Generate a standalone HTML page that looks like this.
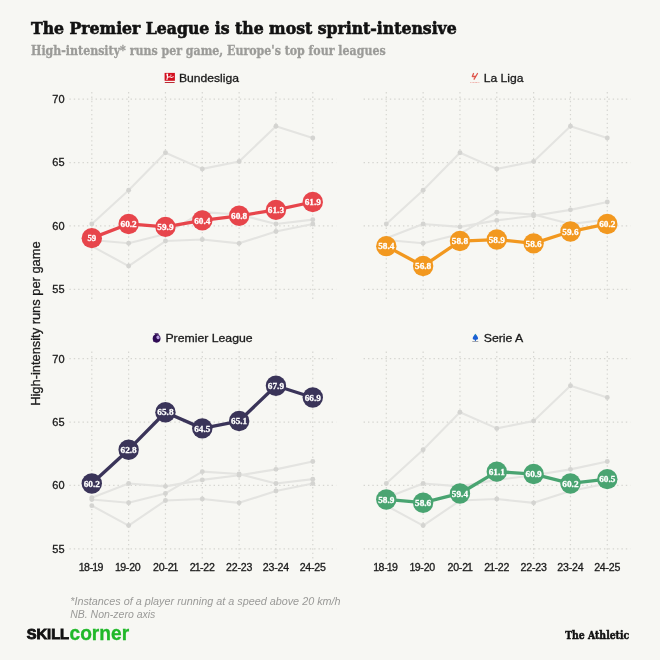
<!DOCTYPE html>
<html lang="en"><head><meta charset="utf-8"><title>The Premier League is the most sprint-intensive</title>
<style>
html,body{margin:0;padding:0;background:#f7f7f3;}
body{width:660px;height:660px;overflow:hidden;}
svg{display:block}
.t{font-family:"DejaVu Serif Condensed","DejaVu Serif","Liberation Serif",serif;font-stretch:condensed;font-weight:bold;}
.v{font-family:"Liberation Serif","DejaVu Serif",serif;font-weight:bold;font-size:9.2px;fill:#fff;stroke:#fff;stroke-width:0.28;}
.s{font-family:"Liberation Sans",sans-serif;}
.m{stroke:#1a1a1a;stroke-width:0.3;fill:#1a1a1a;}
.g line{stroke:#d6d6d1;stroke-width:1.2;stroke-dasharray:1.4 2.97;}
</style></head><body>
<svg width="660" height="660" viewBox="0 0 660 660">
<rect width="660" height="660" fill="#f7f7f3"/>
<text class="t" x="31" y="34.3" font-size="17.4" fill="#121212" stroke="#121212" stroke-width="0.6" textLength="425.7" lengthAdjust="spacingAndGlyphs">The Premier League is the most sprint-intensive</text>
<text class="t" x="31" y="55.3" font-size="12.25" fill="#9b9b98" stroke="#9b9b98" stroke-width="0.3" textLength="354.6" lengthAdjust="spacingAndGlyphs">High-intensity* runs per game, Europe's top four leagues</text>

<g>
<g class="g">
<line x1="69.4" x2="336.20000000000005" y1="99.10" y2="99.10"/>
<line x1="69.4" x2="336.20000000000005" y1="162.53" y2="162.53"/>
<line x1="69.4" x2="336.20000000000005" y1="225.97" y2="225.97"/>
<line x1="69.4" x2="336.20000000000005" y1="289.40" y2="289.40"/>
<line x1="91.80" x2="91.80" y1="298.90" y2="89.60"/>
<line x1="128.63" x2="128.63" y1="298.90" y2="89.60"/>
<line x1="165.46" x2="165.46" y1="298.90" y2="89.60"/>
<line x1="202.29" x2="202.29" y1="298.90" y2="89.60"/>
<line x1="239.12" x2="239.12" y1="298.90" y2="89.60"/>
<line x1="275.95" x2="275.95" y1="298.90" y2="89.60"/>
<line x1="312.78" x2="312.78" y1="298.90" y2="89.60"/>
</g>
<polyline points="91.80,246.14 128.63,266.06 165.46,241.07 202.29,239.55 239.12,243.35 275.95,231.55 312.78,223.94" fill="none" stroke="#e4e4e1" stroke-width="2.1" stroke-linejoin="round"/>
<circle cx="91.80" cy="246.14" r="2.45" fill="#d4d4d1"/>
<circle cx="128.63" cy="266.06" r="2.45" fill="#d4d4d1"/>
<circle cx="165.46" cy="241.07" r="2.45" fill="#d4d4d1"/>
<circle cx="202.29" cy="239.55" r="2.45" fill="#d4d4d1"/>
<circle cx="239.12" cy="243.35" r="2.45" fill="#d4d4d1"/>
<circle cx="275.95" cy="231.55" r="2.45" fill="#d4d4d1"/>
<circle cx="312.78" cy="223.94" r="2.45" fill="#d4d4d1"/>
<polyline points="91.80,223.94 128.63,190.19 165.46,152.77 202.29,168.88 239.12,161.52 275.95,126.25 312.78,138.05" fill="none" stroke="#e4e4e1" stroke-width="2.1" stroke-linejoin="round"/>
<circle cx="91.80" cy="223.94" r="2.45" fill="#d4d4d1"/>
<circle cx="128.63" cy="190.19" r="2.45" fill="#d4d4d1"/>
<circle cx="165.46" cy="152.77" r="2.45" fill="#d4d4d1"/>
<circle cx="202.29" cy="168.88" r="2.45" fill="#d4d4d1"/>
<circle cx="239.12" cy="161.52" r="2.45" fill="#d4d4d1"/>
<circle cx="275.95" cy="126.25" r="2.45" fill="#d4d4d1"/>
<circle cx="312.78" cy="138.05" r="2.45" fill="#d4d4d1"/>
<polyline points="91.80,239.93 128.63,243.22 165.46,233.96 202.29,212.14 239.12,214.55 275.95,223.94 312.78,219.63" fill="none" stroke="#e4e4e1" stroke-width="2.1" stroke-linejoin="round"/>
<circle cx="91.80" cy="239.93" r="2.45" fill="#d4d4d1"/>
<circle cx="128.63" cy="243.22" r="2.45" fill="#d4d4d1"/>
<circle cx="165.46" cy="233.96" r="2.45" fill="#d4d4d1"/>
<circle cx="202.29" cy="212.14" r="2.45" fill="#d4d4d1"/>
<circle cx="239.12" cy="214.55" r="2.45" fill="#d4d4d1"/>
<circle cx="275.95" cy="223.94" r="2.45" fill="#d4d4d1"/>
<circle cx="312.78" cy="219.63" r="2.45" fill="#d4d4d1"/>
<polyline points="91.80,238.15 128.63,223.94 165.46,226.86 202.29,220.39 239.12,215.82 275.95,209.86 312.78,201.99" fill="none" stroke="#e7454b" stroke-width="3.3" stroke-linejoin="round"/>
<circle cx="91.80" cy="238.15" r="10.2" fill="#e7454b"/>
<text class="v" x="87.40" y="241.35" textLength="8.8" lengthAdjust="spacingAndGlyphs">59</text>
<circle cx="128.63" cy="223.94" r="10.2" fill="#e7454b"/>
<text class="v" x="120.53" y="227.14" textLength="16.2" lengthAdjust="spacingAndGlyphs">60.2</text>
<circle cx="165.46" cy="226.86" r="10.2" fill="#e7454b"/>
<text class="v" x="157.36" y="230.06" textLength="16.2" lengthAdjust="spacingAndGlyphs">59.9</text>
<circle cx="202.29" cy="220.39" r="10.2" fill="#e7454b"/>
<text class="v" x="194.19" y="223.59" textLength="16.2" lengthAdjust="spacingAndGlyphs">60.4</text>
<circle cx="239.12" cy="215.82" r="10.2" fill="#e7454b"/>
<text class="v" x="231.02" y="219.02" textLength="16.2" lengthAdjust="spacingAndGlyphs">60.8</text>
<circle cx="275.95" cy="209.86" r="10.2" fill="#e7454b"/>
<text class="v" x="267.85" y="213.06" textLength="16.2" lengthAdjust="spacingAndGlyphs">61.3</text>
<circle cx="312.78" cy="201.99" r="10.2" fill="#e7454b"/>
<text class="v" x="304.68" y="205.19" textLength="16.2" lengthAdjust="spacingAndGlyphs">61.9</text>
<text class="s m" x="64.6" y="103.00" font-size="11" text-anchor="end">70</text>
<text class="s m" x="64.6" y="166.44" font-size="11" text-anchor="end">65</text>
<text class="s m" x="64.6" y="229.87" font-size="11" text-anchor="end">60</text>
<text class="s m" x="64.6" y="293.30" font-size="11" text-anchor="end">55</text>
</g>
<g>
<g class="g">
<line x1="363.6" x2="630.4000000000001" y1="99.10" y2="99.10"/>
<line x1="363.6" x2="630.4000000000001" y1="162.53" y2="162.53"/>
<line x1="363.6" x2="630.4000000000001" y1="225.97" y2="225.97"/>
<line x1="363.6" x2="630.4000000000001" y1="289.40" y2="289.40"/>
<line x1="386.30" x2="386.30" y1="298.90" y2="89.60"/>
<line x1="423.13" x2="423.13" y1="298.90" y2="89.60"/>
<line x1="459.96" x2="459.96" y1="298.90" y2="89.60"/>
<line x1="496.79" x2="496.79" y1="298.90" y2="89.60"/>
<line x1="533.62" x2="533.62" y1="298.90" y2="89.60"/>
<line x1="570.45" x2="570.45" y1="298.90" y2="89.60"/>
<line x1="607.28" x2="607.28" y1="298.90" y2="89.60"/>
</g>
<polyline points="386.30,238.15 423.13,223.94 459.96,226.86 496.79,220.39 533.62,215.82 570.45,209.86 607.28,201.99" fill="none" stroke="#e4e4e1" stroke-width="2.1" stroke-linejoin="round"/>
<circle cx="386.30" cy="238.15" r="2.45" fill="#d4d4d1"/>
<circle cx="423.13" cy="223.94" r="2.45" fill="#d4d4d1"/>
<circle cx="459.96" cy="226.86" r="2.45" fill="#d4d4d1"/>
<circle cx="496.79" cy="220.39" r="2.45" fill="#d4d4d1"/>
<circle cx="533.62" cy="215.82" r="2.45" fill="#d4d4d1"/>
<circle cx="570.45" cy="209.86" r="2.45" fill="#d4d4d1"/>
<circle cx="607.28" cy="201.99" r="2.45" fill="#d4d4d1"/>
<polyline points="386.30,223.94 423.13,190.19 459.96,152.77 496.79,168.88 533.62,161.52 570.45,126.25 607.28,138.05" fill="none" stroke="#e4e4e1" stroke-width="2.1" stroke-linejoin="round"/>
<circle cx="386.30" cy="223.94" r="2.45" fill="#d4d4d1"/>
<circle cx="423.13" cy="190.19" r="2.45" fill="#d4d4d1"/>
<circle cx="459.96" cy="152.77" r="2.45" fill="#d4d4d1"/>
<circle cx="496.79" cy="168.88" r="2.45" fill="#d4d4d1"/>
<circle cx="533.62" cy="161.52" r="2.45" fill="#d4d4d1"/>
<circle cx="570.45" cy="126.25" r="2.45" fill="#d4d4d1"/>
<circle cx="607.28" cy="138.05" r="2.45" fill="#d4d4d1"/>
<polyline points="386.30,239.93 423.13,243.22 459.96,233.96 496.79,212.14 533.62,214.55 570.45,223.94 607.28,219.63" fill="none" stroke="#e4e4e1" stroke-width="2.1" stroke-linejoin="round"/>
<circle cx="386.30" cy="239.93" r="2.45" fill="#d4d4d1"/>
<circle cx="423.13" cy="243.22" r="2.45" fill="#d4d4d1"/>
<circle cx="459.96" cy="233.96" r="2.45" fill="#d4d4d1"/>
<circle cx="496.79" cy="212.14" r="2.45" fill="#d4d4d1"/>
<circle cx="533.62" cy="214.55" r="2.45" fill="#d4d4d1"/>
<circle cx="570.45" cy="223.94" r="2.45" fill="#d4d4d1"/>
<circle cx="607.28" cy="219.63" r="2.45" fill="#d4d4d1"/>
<polyline points="386.30,246.14 423.13,266.06 459.96,241.07 496.79,239.55 533.62,243.35 570.45,231.55 607.28,223.94" fill="none" stroke="#f2981f" stroke-width="3.3" stroke-linejoin="round"/>
<circle cx="386.30" cy="246.14" r="10.2" fill="#f2981f"/>
<text class="v" x="378.20" y="249.34" textLength="16.2" lengthAdjust="spacingAndGlyphs">58.4</text>
<circle cx="423.13" cy="266.06" r="10.2" fill="#f2981f"/>
<text class="v" x="415.03" y="269.26" textLength="16.2" lengthAdjust="spacingAndGlyphs">56.8</text>
<circle cx="459.96" cy="241.07" r="10.2" fill="#f2981f"/>
<text class="v" x="451.86" y="244.27" textLength="16.2" lengthAdjust="spacingAndGlyphs">58.8</text>
<circle cx="496.79" cy="239.55" r="10.2" fill="#f2981f"/>
<text class="v" x="488.69" y="242.75" textLength="16.2" lengthAdjust="spacingAndGlyphs">58.9</text>
<circle cx="533.62" cy="243.35" r="10.2" fill="#f2981f"/>
<text class="v" x="525.52" y="246.55" textLength="16.2" lengthAdjust="spacingAndGlyphs">58.6</text>
<circle cx="570.45" cy="231.55" r="10.2" fill="#f2981f"/>
<text class="v" x="562.35" y="234.75" textLength="16.2" lengthAdjust="spacingAndGlyphs">59.6</text>
<circle cx="607.28" cy="223.94" r="10.2" fill="#f2981f"/>
<text class="v" x="599.18" y="227.14" textLength="16.2" lengthAdjust="spacingAndGlyphs">60.2</text>
</g>
<g>
<g class="g">
<line x1="69.4" x2="336.20000000000005" y1="358.60" y2="358.60"/>
<line x1="69.4" x2="336.20000000000005" y1="422.04" y2="422.04"/>
<line x1="69.4" x2="336.20000000000005" y1="485.47" y2="485.47"/>
<line x1="69.4" x2="336.20000000000005" y1="548.90" y2="548.90"/>
<line x1="91.80" x2="91.80" y1="558.40" y2="349.10"/>
<line x1="128.63" x2="128.63" y1="558.40" y2="349.10"/>
<line x1="165.46" x2="165.46" y1="558.40" y2="349.10"/>
<line x1="202.29" x2="202.29" y1="558.40" y2="349.10"/>
<line x1="239.12" x2="239.12" y1="558.40" y2="349.10"/>
<line x1="275.95" x2="275.95" y1="558.40" y2="349.10"/>
<line x1="312.78" x2="312.78" y1="558.40" y2="349.10"/>
</g>
<polyline points="91.80,497.65 128.63,483.44 165.46,486.36 202.29,479.89 239.12,475.32 275.95,469.36 312.78,461.49" fill="none" stroke="#e4e4e1" stroke-width="2.1" stroke-linejoin="round"/>
<circle cx="91.80" cy="497.65" r="2.45" fill="#d4d4d1"/>
<circle cx="128.63" cy="483.44" r="2.45" fill="#d4d4d1"/>
<circle cx="165.46" cy="486.36" r="2.45" fill="#d4d4d1"/>
<circle cx="202.29" cy="479.89" r="2.45" fill="#d4d4d1"/>
<circle cx="239.12" cy="475.32" r="2.45" fill="#d4d4d1"/>
<circle cx="275.95" cy="469.36" r="2.45" fill="#d4d4d1"/>
<circle cx="312.78" cy="461.49" r="2.45" fill="#d4d4d1"/>
<polyline points="91.80,505.64 128.63,525.56 165.46,500.57 202.29,499.05 239.12,502.85 275.95,491.05 312.78,483.44" fill="none" stroke="#e4e4e1" stroke-width="2.1" stroke-linejoin="round"/>
<circle cx="91.80" cy="505.64" r="2.45" fill="#d4d4d1"/>
<circle cx="128.63" cy="525.56" r="2.45" fill="#d4d4d1"/>
<circle cx="165.46" cy="500.57" r="2.45" fill="#d4d4d1"/>
<circle cx="202.29" cy="499.05" r="2.45" fill="#d4d4d1"/>
<circle cx="239.12" cy="502.85" r="2.45" fill="#d4d4d1"/>
<circle cx="275.95" cy="491.05" r="2.45" fill="#d4d4d1"/>
<circle cx="312.78" cy="483.44" r="2.45" fill="#d4d4d1"/>
<polyline points="91.80,499.43 128.63,502.72 165.46,493.46 202.29,471.64 239.12,474.05 275.95,483.44 312.78,479.13" fill="none" stroke="#e4e4e1" stroke-width="2.1" stroke-linejoin="round"/>
<circle cx="91.80" cy="499.43" r="2.45" fill="#d4d4d1"/>
<circle cx="128.63" cy="502.72" r="2.45" fill="#d4d4d1"/>
<circle cx="165.46" cy="493.46" r="2.45" fill="#d4d4d1"/>
<circle cx="202.29" cy="471.64" r="2.45" fill="#d4d4d1"/>
<circle cx="239.12" cy="474.05" r="2.45" fill="#d4d4d1"/>
<circle cx="275.95" cy="483.44" r="2.45" fill="#d4d4d1"/>
<circle cx="312.78" cy="479.13" r="2.45" fill="#d4d4d1"/>
<polyline points="91.80,483.44 128.63,449.69 165.46,412.27 202.29,428.38 239.12,421.02 275.95,385.75 312.78,397.55" fill="none" stroke="#3a3459" stroke-width="3.3" stroke-linejoin="round"/>
<circle cx="91.80" cy="483.44" r="10.2" fill="#3a3459"/>
<text class="v" x="83.70" y="486.64" textLength="16.2" lengthAdjust="spacingAndGlyphs">60.2</text>
<circle cx="128.63" cy="449.69" r="10.2" fill="#3a3459"/>
<text class="v" x="120.53" y="452.89" textLength="16.2" lengthAdjust="spacingAndGlyphs">62.8</text>
<circle cx="165.46" cy="412.27" r="10.2" fill="#3a3459"/>
<text class="v" x="157.36" y="415.47" textLength="16.2" lengthAdjust="spacingAndGlyphs">65.8</text>
<circle cx="202.29" cy="428.38" r="10.2" fill="#3a3459"/>
<text class="v" x="194.19" y="431.58" textLength="16.2" lengthAdjust="spacingAndGlyphs">64.5</text>
<circle cx="239.12" cy="421.02" r="10.2" fill="#3a3459"/>
<text class="v" x="231.02" y="424.22" textLength="16.2" lengthAdjust="spacingAndGlyphs">65.1</text>
<circle cx="275.95" cy="385.75" r="10.2" fill="#3a3459"/>
<text class="v" x="267.85" y="388.95" textLength="16.2" lengthAdjust="spacingAndGlyphs">67.9</text>
<circle cx="312.78" cy="397.55" r="10.2" fill="#3a3459"/>
<text class="v" x="304.68" y="400.75" textLength="16.2" lengthAdjust="spacingAndGlyphs">66.9</text>
<text class="s m" x="64.6" y="362.50" font-size="11" text-anchor="end">70</text>
<text class="s m" x="64.6" y="425.94" font-size="11" text-anchor="end">65</text>
<text class="s m" x="64.6" y="489.37" font-size="11" text-anchor="end">60</text>
<text class="s m" x="64.6" y="552.80" font-size="11" text-anchor="end">55</text>
<text class="s m" x="79.61" y="571" font-size="10.6" dx="-0.75 -0.77 -0.22 -0.97 -0.77">18-19</text>
<text class="s m" x="115.79" y="571" font-size="10.6" dx="-0.75 -0.77 -0.22 -0.22 -0.22">19-20</text>
<text class="s m" x="153.00" y="571" font-size="10.6" dx="0.00 -0.22 -0.22 -0.22 -0.97">20-21</text>
<text class="s m" x="189.83" y="571" font-size="10.6" dx="0.00 -0.97 -0.77 -0.22 -0.22">21-22</text>
<text class="s m" x="226.01" y="571" font-size="10.6" dx="0.00 -0.22 -0.22 -0.22 -0.22">22-23</text>
<text class="s m" x="262.84" y="571" font-size="10.6" dx="0.00 -0.22 -0.22 -0.22 -0.22">23-24</text>
<text class="s m" x="299.67" y="571" font-size="10.6" dx="0.00 -0.22 -0.22 -0.22 -0.22">24-25</text>
</g>
<g>
<g class="g">
<line x1="363.6" x2="630.4000000000001" y1="358.60" y2="358.60"/>
<line x1="363.6" x2="630.4000000000001" y1="422.04" y2="422.04"/>
<line x1="363.6" x2="630.4000000000001" y1="485.47" y2="485.47"/>
<line x1="363.6" x2="630.4000000000001" y1="548.90" y2="548.90"/>
<line x1="386.30" x2="386.30" y1="558.40" y2="349.10"/>
<line x1="423.13" x2="423.13" y1="558.40" y2="349.10"/>
<line x1="459.96" x2="459.96" y1="558.40" y2="349.10"/>
<line x1="496.79" x2="496.79" y1="558.40" y2="349.10"/>
<line x1="533.62" x2="533.62" y1="558.40" y2="349.10"/>
<line x1="570.45" x2="570.45" y1="558.40" y2="349.10"/>
<line x1="607.28" x2="607.28" y1="558.40" y2="349.10"/>
</g>
<polyline points="386.30,497.65 423.13,483.44 459.96,486.36 496.79,479.89 533.62,475.32 570.45,469.36 607.28,461.49" fill="none" stroke="#e4e4e1" stroke-width="2.1" stroke-linejoin="round"/>
<circle cx="386.30" cy="497.65" r="2.45" fill="#d4d4d1"/>
<circle cx="423.13" cy="483.44" r="2.45" fill="#d4d4d1"/>
<circle cx="459.96" cy="486.36" r="2.45" fill="#d4d4d1"/>
<circle cx="496.79" cy="479.89" r="2.45" fill="#d4d4d1"/>
<circle cx="533.62" cy="475.32" r="2.45" fill="#d4d4d1"/>
<circle cx="570.45" cy="469.36" r="2.45" fill="#d4d4d1"/>
<circle cx="607.28" cy="461.49" r="2.45" fill="#d4d4d1"/>
<polyline points="386.30,505.64 423.13,525.56 459.96,500.57 496.79,499.05 533.62,502.85 570.45,491.05 607.28,483.44" fill="none" stroke="#e4e4e1" stroke-width="2.1" stroke-linejoin="round"/>
<circle cx="386.30" cy="505.64" r="2.45" fill="#d4d4d1"/>
<circle cx="423.13" cy="525.56" r="2.45" fill="#d4d4d1"/>
<circle cx="459.96" cy="500.57" r="2.45" fill="#d4d4d1"/>
<circle cx="496.79" cy="499.05" r="2.45" fill="#d4d4d1"/>
<circle cx="533.62" cy="502.85" r="2.45" fill="#d4d4d1"/>
<circle cx="570.45" cy="491.05" r="2.45" fill="#d4d4d1"/>
<circle cx="607.28" cy="483.44" r="2.45" fill="#d4d4d1"/>
<polyline points="386.30,483.44 423.13,449.69 459.96,412.27 496.79,428.38 533.62,421.02 570.45,385.75 607.28,397.55" fill="none" stroke="#e4e4e1" stroke-width="2.1" stroke-linejoin="round"/>
<circle cx="386.30" cy="483.44" r="2.45" fill="#d4d4d1"/>
<circle cx="423.13" cy="449.69" r="2.45" fill="#d4d4d1"/>
<circle cx="459.96" cy="412.27" r="2.45" fill="#d4d4d1"/>
<circle cx="496.79" cy="428.38" r="2.45" fill="#d4d4d1"/>
<circle cx="533.62" cy="421.02" r="2.45" fill="#d4d4d1"/>
<circle cx="570.45" cy="385.75" r="2.45" fill="#d4d4d1"/>
<circle cx="607.28" cy="397.55" r="2.45" fill="#d4d4d1"/>
<polyline points="386.30,499.43 423.13,502.72 459.96,493.46 496.79,471.64 533.62,474.05 570.45,483.44 607.28,479.13" fill="none" stroke="#49a471" stroke-width="3.3" stroke-linejoin="round"/>
<circle cx="386.30" cy="499.43" r="10.2" fill="#49a471"/>
<text class="v" x="378.20" y="502.63" textLength="16.2" lengthAdjust="spacingAndGlyphs">58.9</text>
<circle cx="423.13" cy="502.72" r="10.2" fill="#49a471"/>
<text class="v" x="415.03" y="505.92" textLength="16.2" lengthAdjust="spacingAndGlyphs">58.6</text>
<circle cx="459.96" cy="493.46" r="10.2" fill="#49a471"/>
<text class="v" x="451.86" y="496.66" textLength="16.2" lengthAdjust="spacingAndGlyphs">59.4</text>
<circle cx="496.79" cy="471.64" r="10.2" fill="#49a471"/>
<text class="v" x="488.69" y="474.84" textLength="16.2" lengthAdjust="spacingAndGlyphs">61.1</text>
<circle cx="533.62" cy="474.05" r="10.2" fill="#49a471"/>
<text class="v" x="525.52" y="477.25" textLength="16.2" lengthAdjust="spacingAndGlyphs">60.9</text>
<circle cx="570.45" cy="483.44" r="10.2" fill="#49a471"/>
<text class="v" x="562.35" y="486.64" textLength="16.2" lengthAdjust="spacingAndGlyphs">60.2</text>
<circle cx="607.28" cy="479.13" r="10.2" fill="#49a471"/>
<text class="v" x="599.18" y="482.33" textLength="16.2" lengthAdjust="spacingAndGlyphs">60.5</text>
<text class="s m" x="374.11" y="571" font-size="10.6" dx="-0.75 -0.77 -0.22 -0.97 -0.77">18-19</text>
<text class="s m" x="410.29" y="571" font-size="10.6" dx="-0.75 -0.77 -0.22 -0.22 -0.22">19-20</text>
<text class="s m" x="447.50" y="571" font-size="10.6" dx="0.00 -0.22 -0.22 -0.22 -0.97">20-21</text>
<text class="s m" x="484.33" y="571" font-size="10.6" dx="0.00 -0.97 -0.77 -0.22 -0.22">21-22</text>
<text class="s m" x="520.51" y="571" font-size="10.6" dx="0.00 -0.22 -0.22 -0.22 -0.22">22-23</text>
<text class="s m" x="557.34" y="571" font-size="10.6" dx="0.00 -0.22 -0.22 -0.22 -0.22">23-24</text>
<text class="s m" x="594.17" y="571" font-size="10.6" dx="0.00 -0.22 -0.22 -0.22 -0.22">24-25</text>
</g>

<!-- Bundesliga logo -->
<g>
<rect x="164.6" y="72.9" width="10.3" height="7.9" fill="#d3101f"/>
<rect x="164.8" y="82" width="9.8" height="0.9" fill="#b5121d"/>
<path d="M166.2 73.8 L168.2 73.6 L167.9 76.6 L170.2 76.2 L171.4 76.9 L173.8 76.2 L173.8 77 L171.3 77.9 L170 77.2 L167.8 77.8 L167.4 80 L166.4 80 L166.9 76.8 Z" fill="#fff"/>
<circle cx="170.9" cy="75.2" r="0.6" fill="#fff"/>
</g>
<text class="s m" x="178.9" y="82.4" font-size="11.8" textLength="60" lengthAdjust="spacingAndGlyphs">Bundesliga</text>
<!-- La Liga logo -->
<g fill="none" stroke="#dc4a40" stroke-width="1.3" stroke-linecap="round" stroke-linejoin="round" stroke-opacity="0.92">
<path d="M473.5 73.5 L472.3 76.5 L475.4 76.5"/>
<path d="M477.5 73.5 L474.1 79.2"/>
</g>
<text class="s" x="470.2" y="82.8" font-size="2.3" font-weight="bold" fill="#e6453c" fill-opacity="0.7" textLength="9.4" lengthAdjust="spacingAndGlyphs">LALIGA</text>
<text class="s m" x="483.7" y="82.4" font-size="11.8" textLength="39.8" lengthAdjust="spacingAndGlyphs">La Liga</text>
<!-- Premier League logo -->
<g>
<ellipse cx="156.6" cy="338.6" rx="3.9" ry="4.1" fill="#2f0b55"/>
<path d="M154.3 333.2 L158.2 333.2 L159 334.7 L155.2 334.9 Z" fill="#3b1a5e"/>
<ellipse cx="158" cy="337.4" rx="1.6" ry="1.9" fill="#b9a0e0" transform="rotate(-25 158 337.4)"/>
<path d="M153 340.5 L154.2 341.2 L153.4 341.8 Z" fill="#2f0b55"/>
</g>
<text class="s m" x="165.4" y="342.4" font-size="11.8" textLength="87.2" lengthAdjust="spacingAndGlyphs">Premier League</text>
<!-- Serie A logo -->
<g>
<path d="M475.4 333.8 C476.6 335.6 478.3 337.2 478.1 338.6 C477.9 339.6 476.9 339.9 475.4 339.9 C473.9 339.9 472.9 339.6 472.7 338.6 C472.5 337.2 474.2 335.6 475.4 333.8 Z" fill="#1b5fd4"/>
<path d="M475.4 333.8 L476.3 335.2 L474.5 335.2 Z" fill="#2aa79b"/>
<rect x="474.9" y="339.5" width="1" height="1.6" fill="#1b5fd4"/>
<rect x="472.3" y="341" width="6" height="0.8" fill="#8a8f99"/>
</g>
<text class="s m" x="483.7" y="342.4" font-size="11.8" textLength="39.6" lengthAdjust="spacingAndGlyphs">Serie A</text>
<text class="s m" transform="translate(39.8,405.8) rotate(-90)" font-size="13" textLength="164.4" lengthAdjust="spacingAndGlyphs">High-intensity runs per game</text>
<text class="s" x="70.2" y="604.5" font-size="10.8" font-style="italic" fill="#9a9a98" textLength="270.4" lengthAdjust="spacingAndGlyphs">*Instances of a player running at a speed above 20 km/h</text>
<text class="s" x="70.2" y="617.5" font-size="10.8" font-style="italic" fill="#9a9a98" textLength="85.1" lengthAdjust="spacingAndGlyphs">NB. Non-zero axis</text>
<text class="s" x="26.7" y="639.2" font-size="15" font-weight="bold" fill="#111" stroke="#111" stroke-width="0.9" textLength="42.4" lengthAdjust="spacingAndGlyphs">SKILL</text>
<text class="s" x="69.5" y="639.8" font-size="19.7" font-weight="bold" fill="#20b829" stroke="#20b829" stroke-width="0.3" textLength="59.6" lengthAdjust="spacingAndGlyphs">corner</text>
<text class="t" x="565.2" y="638.5" font-size="10.5" fill="#111" stroke="#111" stroke-width="0.45" textLength="63.9" lengthAdjust="spacingAndGlyphs">The Athletic</text>

</svg></body></html>
